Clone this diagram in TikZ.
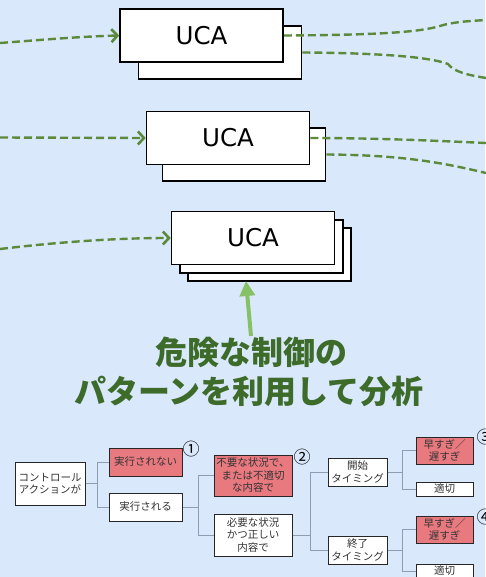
\documentclass[tikz,border=0pt]{standalone}
\usepackage{fontspec}
\usetikzlibrary{arrows.meta}
\setmainfont{DejaVu Sans}
\newfontfamily\jp{Noto Sans CJK JP}
\definecolor{bgblue}{HTML}{DAE8FC}
\definecolor{dgreen}{HTML}{5A8A3A}
\definecolor{lgreen}{HTML}{86C166}
\definecolor{tgreen}{HTML}{3D6B2A}
\definecolor{redfill}{HTML}{E8797F}
\definecolor{treeline}{HTML}{8C9EB2}
\definecolor{ttext}{HTML}{333333}
\tikzset{
  ucabox/.style={draw=black, line width=1.6pt, fill=white, minimum width=163, minimum height=53, inner sep=0},
  ucatext/.style={font=\fontsize{24.5}{28}\selectfont},
  dashline/.style={draw=dgreen, line width=2.4pt, dash pattern=on 8pt off 4pt},
  dasharrow/.style={dashline, -{Straight Barb[length=6pt,width=13pt,line width=2.6pt]}},
  tbox/.style={draw=black!85, line width=1pt, fill=white, inner sep=0, align=center, text=ttext, font=\jp\fontsize{10.5}{12.5}\selectfont},
  rbox/.style={tbox, fill=redfill},
  tline/.style={draw=treeline, line width=1pt},
  circnum/.style={inner sep=0, font=\jp\fontsize{17}{17}\selectfont, text=black},
  bigtext/.style={inner sep=0, text=tgreen, font=\jp\bfseries\fontsize{32}{36}\selectfont}
}
\begin{document}
\begin{tikzpicture}[x=1pt, y=-1pt]
\fill[bgblue] (0,0) rectangle (485,577);
\useasboundingbox (0,0) rectangle (485,577);

% UCA stack 1
\node[ucabox] (b1) at (220,52.5) {};
\node[ucabox] (u1) at (201.5,35.5) {};
\node[ucatext] (t1) at (u1) {UCA};
% UCA stack 2
\node[ucabox] (b2) at (244,154.5) {};
\node[ucabox] (u2) at (228,138) {};
\node[ucatext] (t2) at (u2) {UCA};
% UCA stack 3
\node[ucabox] (c3) at (269.5,254.5) {};
\node[ucabox] (b3) at (261.5,246.5) {};
\node[ucabox] (u3) at (253,238) {};
\node[ucatext] (t3) at (u3) {UCA};

% incoming dashed arrows
\coordinate (L1) at (0,43);
\coordinate (L2) at (0,137.5);
\coordinate (L3) at (0,249);
\draw[dasharrow] (L1) .. controls (40,40) and (80,36.5) .. (u1.west);
\draw[dasharrow] (L2) -- (u2.west);
\draw[dasharrow] (L3) .. controls (50,243) and (110,238) .. (u3.west);

% outgoing dashed lines
\coordinate (R1a) at (486,20);
\coordinate (R1b) at (486,78);
\coordinate (R2a) at (486,143);
\coordinate (R2b) at (486,173);
\draw[dashline] (u1.east) .. controls (380,35) and (420,32) .. (440,26) .. controls (452,22) and (470,21) .. (R1a);
\draw[dashline] (b1.east) .. controls (380,53) and (430,57) .. (448,64) .. controls (454,72) and (468,75) .. (R1b);
\draw[dashline] (u2.east) .. controls (380,138) and (440,141) .. (R2a);
\draw[dashline] (b2.east) .. controls (400,155) and (440,162) .. (R2b);

% big text and arrow
\node[bigtext] (h1) at (251,352) {危険な制御の};
\node[bigtext] (h2) at (249,391) {パターンを利用して分析};
\coordinate (ah) at (251,336);
\coordinate (at) at (246,281);
\draw[lgreen, line width=4pt, -{Triangle[length=15pt,width=15pt]}] (ah) -- (at);

% tree
\node[tbox, minimum width=70, minimum height=43] (ca) at (50,483.5) {コントロール\\アクションが};
\node[rbox, minimum width=73, minimum height=28] (n1) at (145.5,462) {実行されない};
\node[tbox, minimum width=73, minimum height=28] (n2) at (145.5,507) {実行される};
\node[rbox, minimum width=78, minimum height=41] (m1) at (253,475.5) {不要な状況で、\\または不適切\\な内容で};
\node[tbox, minimum width=78, minimum height=42] (m2) at (253,535) {必要な状況\\かつ正しい\\内容で};
\node[tbox, minimum width=59, minimum height=28] (s1) at (357.5,472) {開始\\タイミング};
\node[tbox, minimum width=59, minimum height=28] (s2) at (357.5,550) {終了\\タイミング};
\node[rbox, minimum width=57, minimum height=27] (e1) at (444.5,450.5) {早すぎ／\\遅すぎ};
\node[tbox, minimum width=57, minimum height=14] (k1) at (444.5,489) {適切};
\node[rbox, minimum width=57, minimum height=27] (e2) at (444.5,529.5) {早すぎ／\\遅すぎ};
\node[tbox, minimum width=57, minimum height=14] (k2) at (444.5,571) {適切};

\node[circnum] (c1) at (191,449) {①};
\node[circnum] (c2) at (302,457) {②};
\node[circnum] (c3n) at (485,437) {③};
\node[circnum] (c4n) at (485,517) {④};

\coordinate (j1) at (97,483.5);
\coordinate (j2) at (198,507);
\coordinate (j3) at (310,535);
\coordinate (j4) at (402,472);
\coordinate (j5) at (402,550);
\draw[tline] (ca.east) -- (j1) |- (n1.west);
\draw[tline] (j1) |- (n2.west);
\draw[tline] (n2.east) -- (j2) |- (m1.west);
\draw[tline] (j2) |- (m2.west);
\draw[tline] (m2.east) -- (j3) |- (s1.west);
\draw[tline] (j3) |- (s2.west);
\draw[tline] (s1.east) -- (j4) |- (e1.west);
\draw[tline] (j4) |- (k1.west);
\draw[tline] (s2.east) -- (j5) |- (e2.west);
\draw[tline] (j5) |- (k2.west);
\end{tikzpicture}
\end{document}
